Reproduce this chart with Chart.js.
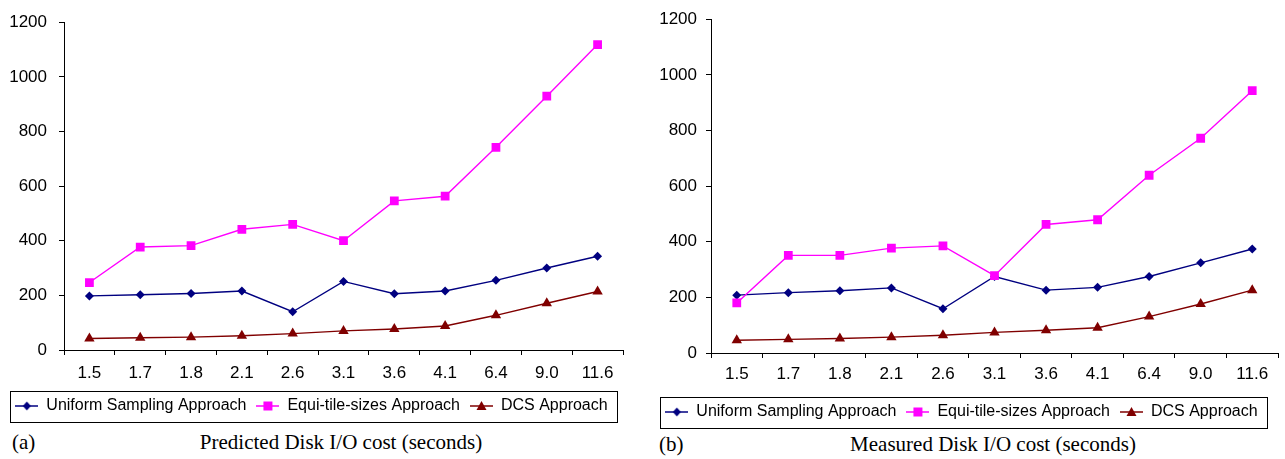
<!DOCTYPE html>
<html>
<head>
<meta charset="utf-8">
<script src="https://cdn.jsdelivr.net/npm/chart.js@4.4.1/dist/chart.umd.min.js"></script>
<style>
  html, body { margin: 0; padding: 0; background: #fff; }
  body { width: 1285px; height: 459px; position: relative; overflow: hidden; }
  .wrap { position: absolute; top: 0; }
  .cap { position: absolute; font-family: "Liberation Serif", "Times New Roman", serif; font-size: 21px; color: #000; white-space: nowrap; line-height: 1; }
</style>
</head>
<body>
<div class="wrap" id="wa" style="left:0px;width:632px;height:424px;"><canvas id="ca"></canvas></div>
<div class="wrap" id="wb" style="left:645px;width:640px;height:430px;"><canvas id="cb"></canvas></div>
<div class="cap" style="left:12px;top:432px;">(a)</div>
<div class="cap" style="left:341px;top:432px;transform:translateX(-50%);">Predicted Disk I/O cost (seconds)</div>
<div class="cap" style="left:659px;top:434px;">(b)</div>
<div class="cap" style="left:993px;top:434px;transform:translateX(-50%);">Measured Disk I/O cost (seconds)</div>
<script>
// ---- data ----
const categories = ["1.5", "1.7", "1.8", "2.1", "2.6", "3.1", "3.6", "4.1", "6.4", "9.0", "11.6"];
const seriesNames = ["Uniform Sampling Approach", "Equi-tile-sizes Approach", "DCS Approach"];
const yTicks = [0, 200, 400, 600, 800, 1000, 1200];

const predictedUniform = [198, 202, 207, 216, 140, 251, 206, 216, 255, 300, 343];
const predictedEqui    = [247, 377, 382, 442, 460, 400, 546, 563, 742, 929, 1118];
const predictedDCS     = [42, 45, 47, 52, 60, 70, 77, 88, 127, 171, 214];

const measuredUniform  = [208, 217, 224, 234, 159, 275, 226, 236, 275, 324, 374];
const measuredEqui     = [180, 351, 351, 377, 385, 278, 462, 479, 639, 772, 943];
const measuredDCS      = [46, 49, 52, 57, 64, 74, 82, 91, 131, 176, 226];

// ---- styles ----
const colors = ["#000080", "#FF00FF", "#800000"];
const styles = ["rectRot", "rect", "triangle"];
const radii = [4.5, 6.2, 6];
const FONT = "'Liberation Sans', Arial, Helvetica, sans-serif";

function makeIcon(i) {
  const c = document.createElement('canvas');
  c.width = 23; c.height = 14;
  const x = c.getContext('2d');
  x.strokeStyle = colors[i]; x.fillStyle = colors[i]; x.lineWidth = 1.5;
  x.beginPath(); x.moveTo(0, 7); x.lineTo(23, 7); x.stroke();
  const cx = 11.5, cy = 7;
  x.beginPath();
  if (i === 0) { x.moveTo(cx, cy - 4.5); x.lineTo(cx + 4, cy); x.lineTo(cx, cy + 4.5); x.lineTo(cx - 4, cy); x.closePath(); }
  else if (i === 1) { x.rect(cx - 4.5, cy - 4.5, 9, 9); }
  else { x.moveTo(cx, cy - 5); x.lineTo(cx + 5, cy + 4); x.lineTo(cx - 5, cy + 4); x.closePath(); }
  x.fill();
  return c;
}
const icons = [0, 1, 2].map(makeIcon);

const legendBorder = {
  id: 'legendBorder',
  afterDraw(chart) {
    const lg = chart.legend;
    if (!lg || !lg.legendHitBoxes || !lg.legendHitBoxes.length) return;
    const hb = lg.legendHitBoxes;
    const l = Math.min(...hb.map(h => h.left)) - 5;
    const r = Math.max(...hb.map(h => h.left + h.width)) + 10;
    const cy = hb[0].top + hb[0].height / 2;
    const ctx = chart.ctx;
    ctx.save();
    ctx.strokeStyle = '#000'; ctx.lineWidth = 1;
    ctx.strokeRect(Math.round(l) + 0.5, Math.round(cy - 15.5) + 0.5, Math.round(r - l), 31);
    ctx.restore();
  }
};

function build(canvasId, values, cfg) {
  const datasets = values.map((v, i) => ({
    label: seriesNames[i],
    data: v,
    borderColor: colors[i],
    backgroundColor: colors[i],
    borderWidth: 1.4,
    pointStyle: styles[i],
    pointRadius: radii[i],
    pointBorderWidth: 0,
    pointBackgroundColor: colors[i],
    tension: 0,
    fill: false
  }));
  datasets[0].order = 2; datasets[1].order = 1; datasets[2].order = 3;
  return new Chart(document.getElementById(canvasId), {
    type: 'line',
    data: { labels: categories, datasets },
    options: {
      responsive: true,
      maintainAspectRatio: false,
      animation: false,
      layout: { padding: { left: 0, right: cfg.padRight, top: cfg.padTop, bottom: 0 } },
      plugins: {
        tooltip: { enabled: false },
        legend: {
          display: true,
          position: 'bottom',
          labels: {
            font: { family: FONT, size: 16 },
            color: '#000',
            padding: 10,
            usePointStyle: true,
            pointStyleWidth: 23,
            generateLabels(chart) {
              const items = Chart.defaults.plugins.legend.labels.generateLabels(chart);
              items.forEach(it => { it.pointStyle = icons[it.datasetIndex]; it.rotation = 0; });
              items.sort((a, b) => a.datasetIndex - b.datasetIndex);
              return items;
            }
          }
        }
      },
      scales: {
        x: {
          type: 'category',
          offset: true,
          grid: { display: true, offset: true, drawOnChartArea: false, drawTicks: true, tickLength: 5, color: '#000', lineWidth: 1 },
          border: { display: true, color: '#000', width: 1 },
          ticks: { color: '#000', font: { family: FONT, size: 17 }, padding: cfg.xPad, maxRotation: 0, autoSkip: false },
          afterFit(scale) { scale.height = cfg.xHeight; }
        },
        y: {
          min: 0, max: 1200,
          afterBuildTicks(scale) { scale.ticks = yTicks.map(v => ({ value: v })); },
          grid: { display: true, drawOnChartArea: false, drawTicks: true, tickLength: 5, color: '#000', lineWidth: 1 },
          border: { display: true, color: '#000', width: 1 },
          ticks: { color: '#000', font: { family: FONT, size: 17 }, padding: cfg.yPad, callback: v => String(v) },
          afterFit(scale) { scale.width = cfg.yWidth; }
        }
      }
    },
    plugins: [legendBorder]
  });
}

build('ca', [predictedUniform, predictedEqui, predictedDCS], { padRight: 9, padTop: 20, xHeight: 38, yWidth: 64, xPad: 8, yPad: 12 });
build('cb', [measuredUniform, measuredEqui, measuredDCS], { padRight: 7, padTop: 15, xHeight: 41, yWidth: 66, xPad: 6, yPad: 9 });
</script>
</body>
</html>
